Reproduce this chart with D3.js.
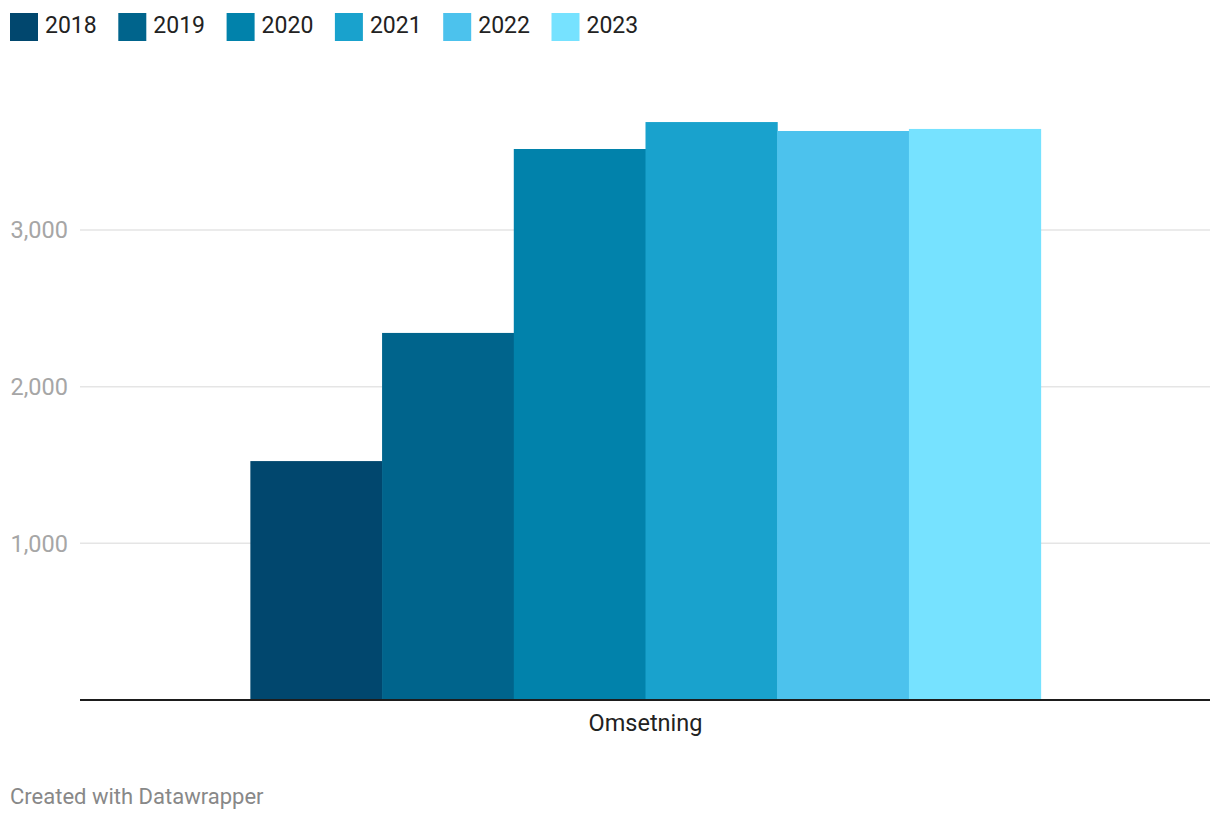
<!DOCTYPE html>
<html>
<head>
<meta charset="utf-8">
<script src="https://cdn.jsdelivr.net/npm/d3@7"></script>
<style>
    body { margin: 0; background: #fff; font-family: Roboto, sans-serif; }
</style>
</head>
<body>
<div id="chart"></div>
<script>
// Data
const categories = ['Omsetning'];
const years = ['2018', '2019', '2020', '2021', '2022', '2023'];
const values = [1525, 2343, 3517, 3689, 3632, 3645];
const yTicks = [1000, 2000, 3000];
const colors = ['#01476e', '#00648c', '#0182ab', '#19a2cd', '#4cc2ed', '#76e2ff'];

const width = 1220, height = 822;
const margin = { left: 80, right: 10, baseline: 700 };

const svg = d3.select('#chart')
    .append('svg')
    .attr('width', width)
    .attr('height', height);

// Scales
const y = d3.scaleLinear()
    .domain([0, 3000])
    .range([margin.baseline, 230]);

const x0 = d3.scaleBand()
    .domain(categories)
    .range([margin.left + 1, width - margin.right])
    .paddingOuter(0.2143);

const x1 = d3.scaleBand()
    .domain(years)
    .range([0, x0.bandwidth()]);

const color = d3.scaleOrdinal().domain(years).range(colors);

// Grid lines + y labels
const grid = svg.append('g');
grid.selectAll('line')
    .data(yTicks)
    .enter()
    .append('line')
        .attr('x1', margin.left)
        .attr('x2', width - margin.right)
        .attr('y1', d => y(d))
        .attr('y2', d => y(d))
        .attr('stroke', '#e5e5e5')
        .attr('stroke-width', 1.5);

grid.selectAll('text')
    .data(yTicks)
    .enter()
    .append('text')
        .attr('x', 68)
        .attr('y', d => y(d))
        .attr('dy', '0.35em')
        .attr('text-anchor', 'end')
        .attr('fill', '#a6a6a6')
        .style('font-size', '23.5px')
        .text(d => d3.format(',')(d));

// Bars
const group = svg.selectAll('.group')
    .data(categories)
    .enter()
    .append('g')
        .attr('class', 'group')
        .attr('transform', d => `translate(${x0(d)}, 0)`);

group.selectAll('rect')
    .data(years.map((yr, i) => ({ year: yr, value: values[i] })))
    .enter()
    .append('rect')
        .attr('x', d => x1(d.year))
        .attr('width', x1.bandwidth() + 0.5)
        .attr('y', d => y(d.value))
        .attr('height', d => y(0) - y(d.value))
        .attr('fill', d => color(d.year));

// Baseline axis
svg.append('line')
    .attr('x1', margin.left)
    .attr('x2', width - margin.right)
    .attr('y1', y(0))
    .attr('y2', y(0))
    .attr('stroke', '#1d1d1d')
    .attr('stroke-width', 2);

// Category label
svg.selectAll('.cat')
    .data(categories)
    .enter()
    .append('text')
        .attr('class', 'cat')
        .attr('x', d => x0(d) + x0.bandwidth() / 2)
        .attr('y', 731)
        .attr('text-anchor', 'middle')
        .attr('fill', '#222')
        .style('font-size', '23.5px')
        .text(d => d);

// Legend
const legend = svg.append('g');
const item = legend.selectAll('g')
    .data(years)
    .enter()
    .append('g')
        .attr('transform', (d, i) => `translate(${10 + i * 108.3}, 13)`);

item.append('rect')
    .attr('width', 28)
    .attr('height', 28)
    .attr('fill', d => color(d));

item.append('text')
    .attr('x', 35)
    .attr('y', 12)
    .attr('dy', '0.36em')
    .attr('fill', '#222')
    .style('font-size', '23px')
    .text(d => d);

// Footer
svg.append('text')
    .attr('x', 10)
    .attr('y', 804)
    .attr('fill', '#888')
    .style('font-size', '22px')
    .text('Created with Datawrapper');
</script>
</body>
</html>
